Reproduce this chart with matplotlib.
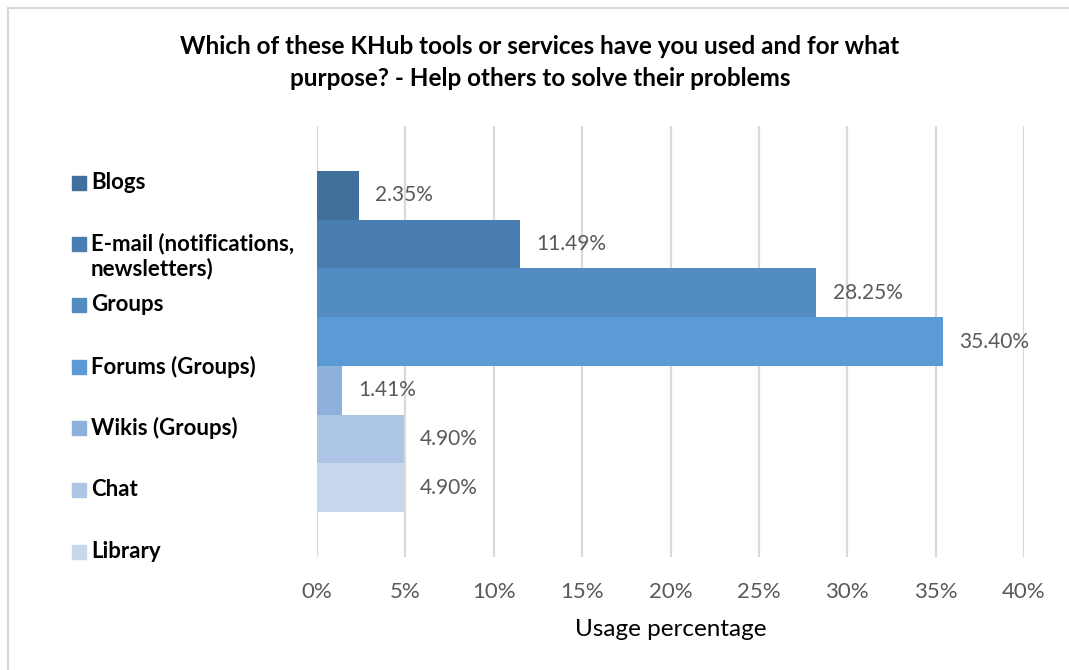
import matplotlib.pyplot as plt
from matplotlib.patches import Rectangle

plt.rcParams['font.family'] = ['Lato', 'DejaVu Sans']

# data
tools = ['Blogs', 'E-mail (notifications,\nnewsletters)', 'Groups', 'Forums (Groups)',
         'Wikis (Groups)', 'Chat', 'Library']
usage = [2.35, 11.49, 28.25, 35.40, 1.41, 4.90, 4.90]
colors = ['#41709C', '#4A7EB0', '#528CC2', '#5B9BD5', '#8DB1DC', '#ADC6E6', '#C7D7EC']
xticks = [0, 5, 10, 15, 20, 25, 30, 35, 40]

fig = plt.figure(figsize=(10.69, 6.7), dpi=100)
ax = fig.add_axes([317/1069, 113/670, 707/1069, 431/670])

# one bar per series, drawn top to bottom
ax.barh(range(len(usage)), usage, height=1.0, color=colors, zorder=3)
for i, v in enumerate(usage):
    ax.annotate(f'{v:.2f}%', (v, i), xytext=(12, 0), textcoords='offset points',
                va='center', ha='left', fontsize=15, color='#595959')

ax.set_xlim(0, 40)
ax.set_ylim(6.5 + 0.92, -0.5 - 0.92)
ax.set_xticks(xticks)
ax.set_xticklabels([f'{t}%' for t in xticks], fontsize=16, color='#595959')
ax.tick_params(axis='x', length=0, pad=18)
ax.set_yticks([])
ax.grid(axis='x', color='#D9D9D9', linewidth=1.6, zorder=0)
for s in ax.spines.values():
    s.set_visible(False)
ax.set_xlabel('Usage percentage', fontsize=17.5, color='#000000', labelpad=12)

fig.text(540/1069, 1 - 46/670, 'Which of these KHub tools or services have you used and for what',
         ha='center', va='center', fontsize=17.5, fontweight='bold')
fig.text(540/1069, 1 - 79/670, 'purpose? - Help others to solve their problems',
         ha='center', va='center', fontsize=17.5, fontweight='bold')

# legend on the left, Excel style
leg_y = [183, 244, 305, 367, 428, 490, 552]
for name, c, y in zip(tools, colors, leg_y):
    fig.patches.append(Rectangle((72/1069, 1 - (y + 7)/670), 14/1069, 14/670,
                                 transform=fig.transFigure, color=c))
    fig.text(91/1069, 1 - (y - 11)/670, name, ha='left', va='top', fontsize=16,
             fontweight='bold', linespacing=1.15)

# chart border
fig.patches.append(Rectangle((8/1069, -0.01), 1.0, 1 - 8/670 + 0.01, transform=fig.transFigure,
                             fill=False, edgecolor='#D9D9D9', linewidth=1.5))

fig.savefig('out.png', dpi=100)
